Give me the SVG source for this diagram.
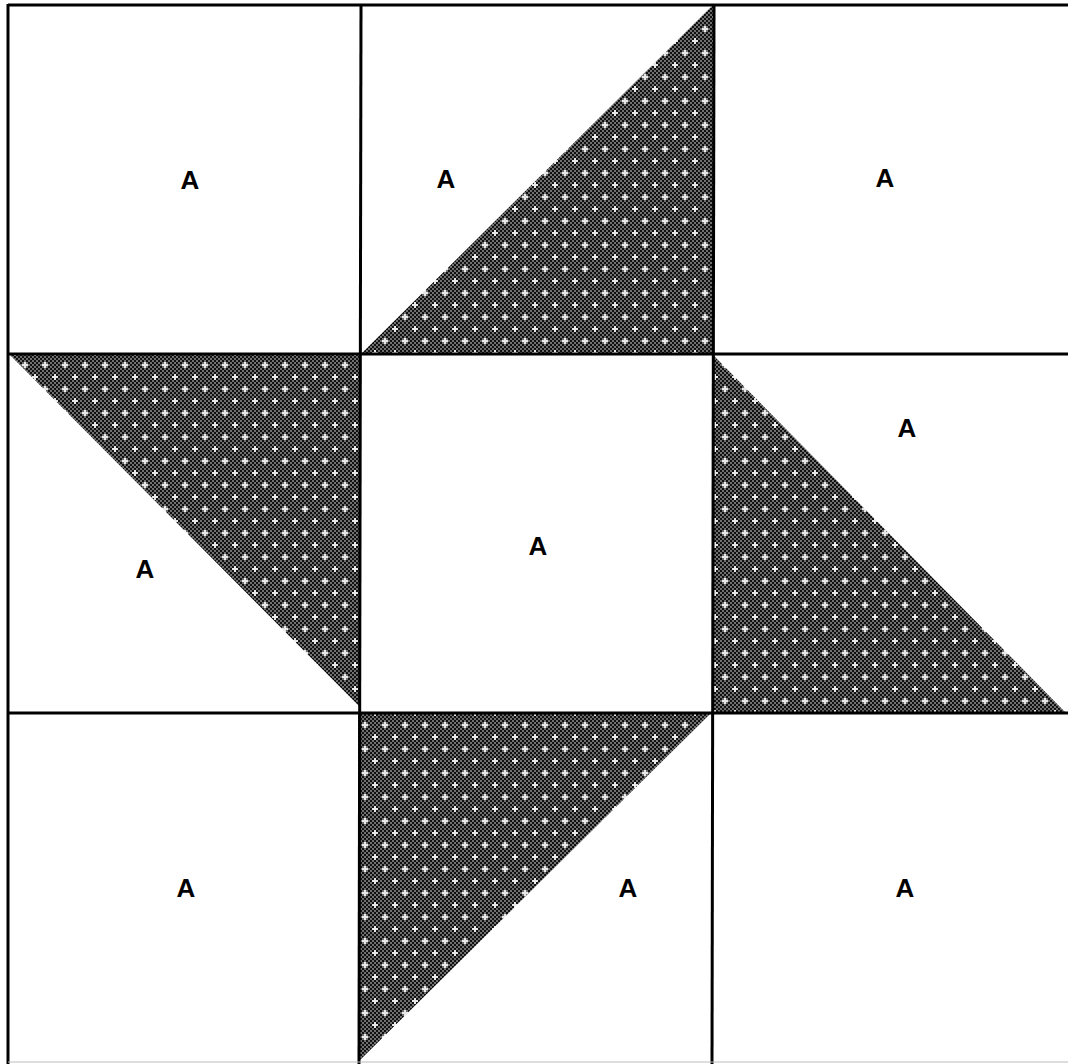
<svg xmlns="http://www.w3.org/2000/svg" width="1068" height="1064" viewBox="0 0 1068 1064">
<defs>
<pattern id="fine" width="4" height="4" patternUnits="userSpaceOnUse">
<rect width="4" height="4" fill="#111"/>
<rect x="0" y="0" width="2" height="2" fill="#707070"/>
<rect x="2" y="2" width="2" height="2" fill="#707070"/>
</pattern>
<pattern id="dots" width="20" height="24" patternUnits="userSpaceOnUse">
<rect width="20" height="24" fill="url(#fine)"/>
<path d="M4 2h2v6h-2z M2 4h6v2h-6z M14 14h2v6h-2z M12 16h6v2h-6z" fill="#e8e8e8"/>
</pattern>
<style>
.g{stroke:#000;stroke-width:3;fill:none}
.t{font-family:"Liberation Sans",Arial,sans-serif;font-weight:bold;font-size:26px;fill:#000;text-anchor:middle}
.tri{fill:url(#dots)}
</style>
</defs>
<rect width="1068" height="1064" fill="#fff"/>
<g id="triangles">
<polygon id="tri-top" class="tri" points="361,354 714,4 714,354"/>
<polygon id="tri-left" class="tri" points="10,355 360,355 360,707"/>
<polygon id="tri-right" class="tri" points="714,356 714,713 1066,713"/>
<polygon id="tri-bottom" class="tri" points="358,713 711,713 358,1062"/>
</g>
<g id="grid">
<line class="g" x1="8" y1="5" x2="1068" y2="5"/>
<line class="g" x1="8" y1="4" x2="8" y2="1064"/>
<line class="g" x1="8" y1="354" x2="1068" y2="354"/>
<line class="g" x1="8" y1="713" x2="1068" y2="713"/>
<line class="g" x1="361" y1="4" x2="359" y2="1064"/>
<line class="g" x1="714" y1="4" x2="712" y2="1064"/>
<line x1="8" y1="1062" x2="1068" y2="1062" stroke="#bbb" stroke-width="1"/>
</g>
<g id="labels">
<text class="t" x="190" y="189">A</text>
<text class="t" x="446" y="188">A</text>
<text class="t" x="885" y="187">A</text>
<text class="t" x="907" y="437">A</text>
<text class="t" x="538" y="555">A</text>
<text class="t" x="145" y="578">A</text>
<text class="t" x="186" y="897">A</text>
<text class="t" x="628" y="897">A</text>
<text class="t" x="905" y="897">A</text>
</g>
</svg>
